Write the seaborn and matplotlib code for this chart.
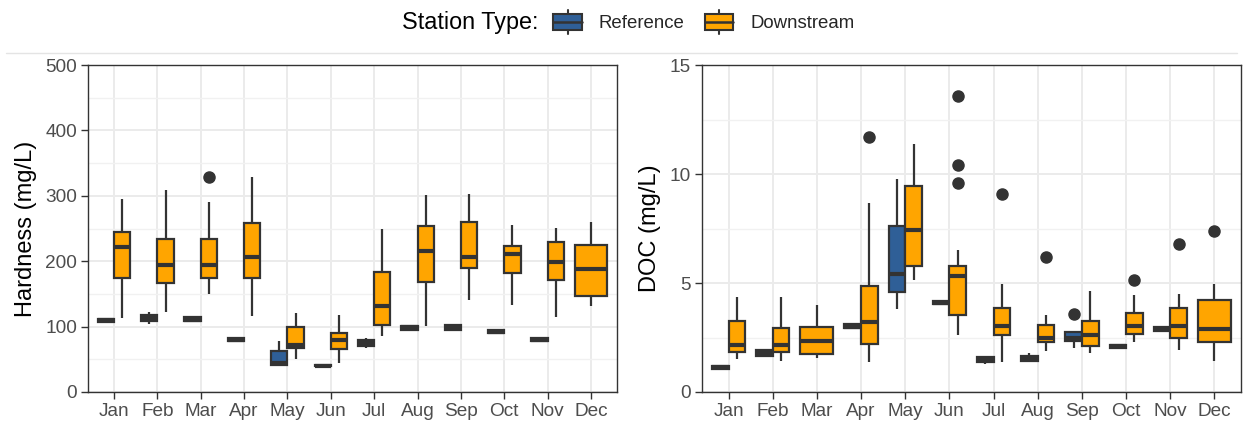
import numpy as np
import pandas as pd
import seaborn as sns
import matplotlib.pyplot as plt
from matplotlib.legend_handler import HandlerBase
from matplotlib.patches import Rectangle, Patch
from matplotlib.lines import Line2D

sns.set_theme(style="whitegrid")
plt.rcParams["font.family"] = ["Liberation Sans", "DejaVu Sans"]

# ---------------- data ----------------
months = ["Jan", "Feb", "Mar", "Apr", "May", "Jun",
          "Jul", "Aug", "Sep", "Oct", "Nov", "Dec"]
stations = ["Reference", "Downstream"]

hardness_ref = [
    [105, 107, 109.5, 112, 113],
    [104, 108, 113, 118, 123],
    [107, 108, 110, 114, 115],
    [77, 77.5, 80, 83, 83.5],
    [42, 42, 45, 62, 78],
    [39, 39.5, 40, 41, 41.5],
    [68, 71, 75, 80, 82.5],
    [95, 95.5, 98.8, 101.5, 102],
    [94, 94.5, 98.3, 102.5, 104],
    [89, 89.5, 92, 94.5, 95],
    [77, 77.5, 80, 82, 82.5],
    [],
]
hardness_down = [
    [113, 150, 174, 200, 221, 232, 245, 270, 295],
    [123, 150, 166.5, 180, 194.5, 215, 234, 270, 309],
    [150, 162, 174, 185, 194.5, 215, 234, 290, 329],
    [116, 150, 174, 190, 206, 230, 258, 290, 328],
    [51, 60, 68, 70, 72.5, 85, 99, 110, 121],
    [45, 55, 65.7, 72, 80, 85, 90, 105, 117],
    [85, 95, 103, 115, 131, 160, 183, 220, 249],
    [101, 140, 167.5, 190, 216, 235, 254, 280, 301],
    [140, 170, 189, 198, 206, 230, 260, 285, 303],
    [133, 160, 182, 200, 211, 218, 222.5, 240, 254.6],
    [115, 150, 170.6, 185, 198.6, 215, 228.6, 240, 251.5],
    [131, 140, 147, 170, 188.4, 205, 225, 245, 260.7],
]
doc_ref = [
    [1.02, 1.05, 1.13, 1.2, 1.24],
    [1.6, 1.66, 1.79, 1.92, 1.99],
    [],
    [2.89, 2.92, 3.0, 3.1, 3.13],
    [3.8, 4.58, 5.41, 7.62, 9.79],
    [3.99, 4.02, 4.1, 4.18, 4.2],
    [1.30, 1.36, 1.48, 1.6, 1.67],
    [1.39, 1.42, 1.51, 1.65, 1.79],
    [2.0, 2.2, 2.33, 2.4, 2.5, 2.6, 2.73, 2.73, 3.59],
    [2.02, 2.04, 2.09, 2.15, 2.17],
    [2.78, 2.81, 2.89, 2.96, 2.98],
    [],
]
doc_down = [
    [1.51, 1.7, 1.82, 2.0, 2.17, 2.8, 3.24, 3.8, 4.38],
    [1.41, 1.6, 1.83, 2.0, 2.17, 2.5, 2.93, 3.6, 4.38],
    [1.56, 1.65, 1.76, 2.1, 2.35, 2.7, 2.98, 3.5, 3.99],
    [1.39, 1.8, 2.2, 2.7, 3.19, 4.0, 4.84, 8.69, 11.69],
    [5.12, 5.4, 5.76, 6.6, 7.43, 8.5, 9.43, 10.5, 11.38],
    [2.6, 2.9, 3.2, 3.4, 3.54, 3.9, 4.3, 4.9, 5.3, 5.4, 5.5, 5.65, 5.79,
     6.52, 9.58, 10.39, 13.6],
    [1.36, 2.2, 2.6, 2.8, 3.04, 3.5, 3.85, 4.97, 9.09],
    [1.86, 2.1, 2.29, 2.4, 2.48, 2.8, 3.07, 3.51, 6.17],
    [1.79, 1.95, 2.09, 2.4, 2.63, 2.9, 3.24, 3.9, 4.63],
    [2.29, 2.5, 2.67, 2.85, 3.04, 3.3, 3.62, 4.46, 5.12],
    [1.91, 2.2, 2.5, 2.8, 3.01, 3.4, 3.84, 4.5, 6.8],
    [1.41, 1.9, 2.28, 2.6, 2.89, 3.5, 4.23, 4.97, 7.4],
]

colors = {"Reference": "#2F5F97", "Downstream": "#FFA500"}
EDGE = "#333333"


def build(ref, down):
    rows = []
    for m, vals in zip(months, ref):
        rows += [(m, "Reference", v) for v in vals]
    for m, vals in zip(months, down):
        rows += [(m, "Downstream", v) for v in vals]
    return pd.DataFrame(rows, columns=["Month", "Station Type", "Value"])


def draw(ax, df, ylim, major, minor, ylabel):
    counts = df.groupby("Month")["Station Type"].nunique()
    both = [m for m in months if counts.get(m, 0) == 2]
    single = [m for m in months if counts.get(m, 0) == 1]
    common = dict(
        x="Month", y="Value", order=months, width=0.75, saturation=1,
        linecolor=EDGE, linewidth=1.6, showcaps=False, fliersize=8,
        flierprops=dict(marker="o", markerfacecolor=EDGE,
                        markeredgecolor=EDGE, markersize=8),
        medianprops=dict(color=EDGE, linewidth=3.0),
        ax=ax,
    )
    sns.boxplot(data=df[df["Month"].isin(both)], hue="Station Type",
                hue_order=stations, palette=colors, legend=False, gap=0,
                **common)
    for st in stations:
        sub = df[df["Month"].isin(single) & (df["Station Type"] == st)]
        if len(sub):
            sns.boxplot(data=sub, color=colors[st], **common)

    ax.set_xlim(-0.6, 11.6)
    ax.set_ylim(*ylim)
    ax.set_yticks(major)
    ax.set_yticks(minor, minor=True)
    ax.set_xticks(range(len(months)))
    ax.set_xticklabels(months)
    ax.set_axisbelow(True)
    ax.grid(True, which="major", axis="both", color="#EBEBEB", linewidth=1.4)
    ax.grid(True, which="minor", axis="y", color="#F1F1F1", linewidth=1.0)
    ax.set_facecolor("white")
    for s in ax.spines.values():
        s.set_visible(True)
        s.set_color(EDGE)
        s.set_linewidth(1.0)
    ax.tick_params(axis="both", which="major", length=5, width=1.0,
                   color=EDGE, labelcolor="#4D4D4D", labelsize=13.7, pad=3,
                   left=True, bottom=True)
    ax.tick_params(axis="y", which="minor", length=0)
    ax.set_xlabel("")
    ax.set_ylabel(ylabel, fontsize=17, color="black", labelpad=6)


fig = plt.figure(figsize=(12.43, 4.22), dpi=100)
fig.patch.set_facecolor("white")
ax1 = fig.add_axes([88 / 1243, 30 / 422, 529 / 1243, 327 / 422])
ax2 = fig.add_axes([702 / 1243, 30 / 422, 539 / 1243, 327 / 422])

draw(ax1, build(hardness_ref, hardness_down), (0, 500),
     [0, 100, 200, 300, 400, 500], [50, 150, 250, 350, 450],
     "Hardness (mg/L)")
draw(ax2, build(doc_ref, doc_down), (0, 15),
     [0, 5, 10, 15], [2.5, 7.5, 12.5], "DOC (mg/L)")

# faint separator under legend strip
fig.add_artist(Line2D([6 / 1243, 1237 / 1243], [1 - 52.5 / 422] * 2,
                      color="#E4E4E4", linewidth=1.0))


class BoxKey(HandlerBase):
    def create_artists(self, legend, orig_handle, xdescent, ydescent,
                       width, height, fontsize, trans):
        fc = orig_handle.get_facecolor()
        x0, y0 = -xdescent, -ydescent
        cx = x0 + width / 2
        bx0, bw = x0 + 0.04 * width, 0.92 * width
        by0, bh = y0 + 0.16 * height, 0.68 * height
        rect = Rectangle((bx0, by0), bw, bh, facecolor=fc, edgecolor=EDGE,
                         linewidth=1.5, transform=trans)
        med = Line2D([bx0, bx0 + bw], [by0 + bh / 2] * 2, color=EDGE,
                     linewidth=1.8, transform=trans)
        w1 = Line2D([cx, cx], [y0, by0], color=EDGE, linewidth=1.5,
                    transform=trans)
        w2 = Line2D([cx, cx], [by0 + bh, y0 + height], color=EDGE,
                    linewidth=1.5, transform=trans)
        return [w1, w2, rect, med]


handles = [Patch(facecolor=colors[s]) for s in stations]
fig.text(402 / 1243, 1 - 22 / 422, "Station Type:", fontsize=16.8,
         va="center", ha="left", color="black")
fig.legend(handles, stations, loc="center left",
           bbox_to_anchor=(552 / 1243, 1 - 22 / 422), ncol=2, frameon=False,
           fontsize=13.4, handlelength=1.67, handleheight=1.6,
           handletextpad=0.85, columnspacing=1.0, borderpad=0,
           borderaxespad=0, handler_map={Patch: BoxKey()})

fig.savefig("out.png", dpi=100, facecolor="white")
